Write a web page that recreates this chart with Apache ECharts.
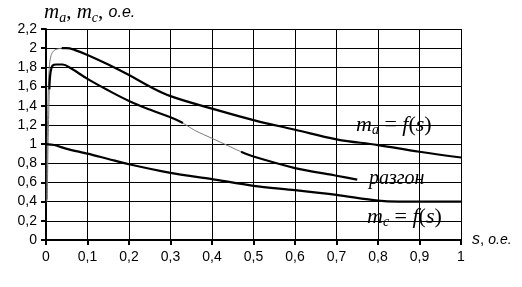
<!DOCTYPE html>
<html><head><meta charset="utf-8">
<script src="https://cdn.jsdelivr.net/npm/echarts@6/dist/echarts.min.js"></script>
<style>html,body{margin:0;padding:0;background:#fff}#c{width:522px;height:287px}</style>
</head><body><div id="c"></div>
<script>
// x ticks / y ticks
const xTicks = [0,0.1,0.2,0.3,0.4,0.5,0.6,0.7,0.8,0.9,1];
const yTicks = [0,0.2,0.4,0.6,0.8,1,1.2,1.4,1.6,1.8,2,2.2];

// m_a = f(s): initial rise (thin) and main curve
const maRiseS = [0.002,0.003,0.005,0.008,0.012,0.018,0.026,0.038];
const maRiseV = [0.40,1.00,1.50,1.80,1.92,1.97,1.99,2.00];
const maS = [0.038,0.05,0.07,0.1,0.15,0.2,0.25,0.3,0.4,0.5,0.6,0.7,0.8,0.9,1.0];
const maV = [2.00,2.00,1.98,1.93,1.83,1.72,1.60,1.50,1.37,1.25,1.15,1.05,0.99,0.92,0.86];

// разгон curve: thick parts and thin grey part
const rzRiseS = [0.003,0.005,0.008];
const rzRiseV = [0.42,1.00,1.57];
const rz1S = [0.008,0.011,0.016,0.025,0.04,0.06,0.1,0.15,0.2,0.25,0.3,0.33];
const rz1V = [1.57,1.75,1.82,1.83,1.83,1.79,1.68,1.56,1.45,1.36,1.28,1.22];
const rz2S = [0.33,0.36,0.4,0.44,0.47];
const rz2V = [1.22,1.14,1.06,0.98,0.92];
const rz3S = [0.47,0.5,0.6,0.7,0.75];
const rz3V = [0.92,0.87,0.75,0.67,0.63];

// m_c = f(s)
const mcS = [0,0.02,0.05,0.1,0.15,0.2,0.3,0.4,0.5,0.6,0.7,0.8,0.85,0.9,1.0];
const mcV = [1.00,0.99,0.95,0.90,0.845,0.79,0.70,0.635,0.565,0.52,0.47,0.41,0.40,0.40,0.40];

const zip = (a,b) => a.map((v,i)=>[v,b[i]]);
const fmt = v => String(Math.round(v*10)/10).replace('.', ',');

const thick = {color:'#000', width:2.2};
const thin = {color:'#777', width:1};
function ser(s,v,ls,smooth){return {type:'line', data:zip(s,v), showSymbol:false, symbol:'none', smooth:smooth, lineStyle:ls, z:5, animation:false};}

const serif = 'Liberation Serif';
function eqRich(sz){return {
  m:{fontFamily:serif,fontStyle:'italic',fontSize:sz,fill:'#000'},
  sub:{fontFamily:serif,fontStyle:'italic',fontSize:Math.round(sz*0.65),fill:'#000',padding:[Math.round(sz*0.5),0,0,0]},
  e:{fontFamily:serif,fontSize:sz,fill:'#000'}};}

const chart = echarts.init(document.getElementById('c'));
chart.setOption({
  animation:false,
  grid:{left:46,right:61,top:29,bottom:47},
  xAxis:{type:'value',min:0,max:1,interval:0.1,
    axisLine:{lineStyle:{color:'#000',width:2}},
    axisTick:{show:true,length:5,lineStyle:{color:'#000',width:2}},
    axisLabel:{formatter:fmt,color:'#000',fontFamily:'Liberation Sans',fontSize:14,margin:10},
    splitLine:{show:true,lineStyle:{color:'#000',width:1}}},
  yAxis:{type:'value',min:0,max:2.2,interval:0.2,
    axisLine:{show:true,lineStyle:{color:'#000',width:2}},
    axisTick:{show:true,length:5,lineStyle:{color:'#000',width:2}},
    axisLabel:{formatter:fmt,color:'#000',fontFamily:'Liberation Sans',fontSize:14,margin:9},
    splitLine:{show:true,lineStyle:{color:'#000',width:1}}},
  series:[
    ser(maRiseS,maRiseV,thin,0.4),
    ser(maS,maV,thick,0.4),
    ser(rzRiseS,rzRiseV,thin,0.3),
    ser(rz1S,rz1V,thick,0.4),
    ser(rz2S,rz2V,thin,0.3),
    ser(rz3S,rz3V,thick,0.3),
    ser(mcS,mcV,thick,0.3)
  ],
  graphic:[
    {type:'text',left:44,top:2,z:10,style:{
      text:'{m|m}{sub|a}{e|, }{m|m}{sub|c}{e|, }{o|o.e.}',
      rich:Object.assign(eqRich(21),{o:{fontFamily:'Liberation Sans',fontStyle:'italic',fontSize:16,fill:'#000'}})}},
    {type:'text',left:472,top:232,z:10,style:{
      text:'{s|s}{n|, }{o|o.e.}',
      rich:{s:{fontFamily:'Liberation Sans',fontStyle:'italic',fontSize:16,fill:'#000'},
            n:{fontFamily:'Liberation Sans',fontSize:15,fill:'#000'},
            o:{fontFamily:'Liberation Sans',fontStyle:'italic',fontSize:14,fill:'#000'}}}},
    {type:'text',left:356,top:114,z:10,style:{
      text:'{m|m}{sub|a}{e| = }{m|f}{e|(}{m|s}{e|)}', rich:eqRich(22)}},
    {type:'text',left:369,top:169,z:10,style:{
      text:'разгон',fontFamily:serif,fontStyle:'italic',fontSize:20,fill:'#000'}},
    {type:'text',left:367,top:206,z:10,style:{
      text:'{m|m}{sub|c}{e| = }{m|f}{e|(}{m|s}{e|)}', rich:eqRich(22)}}
  ]
});
</script></body></html>
